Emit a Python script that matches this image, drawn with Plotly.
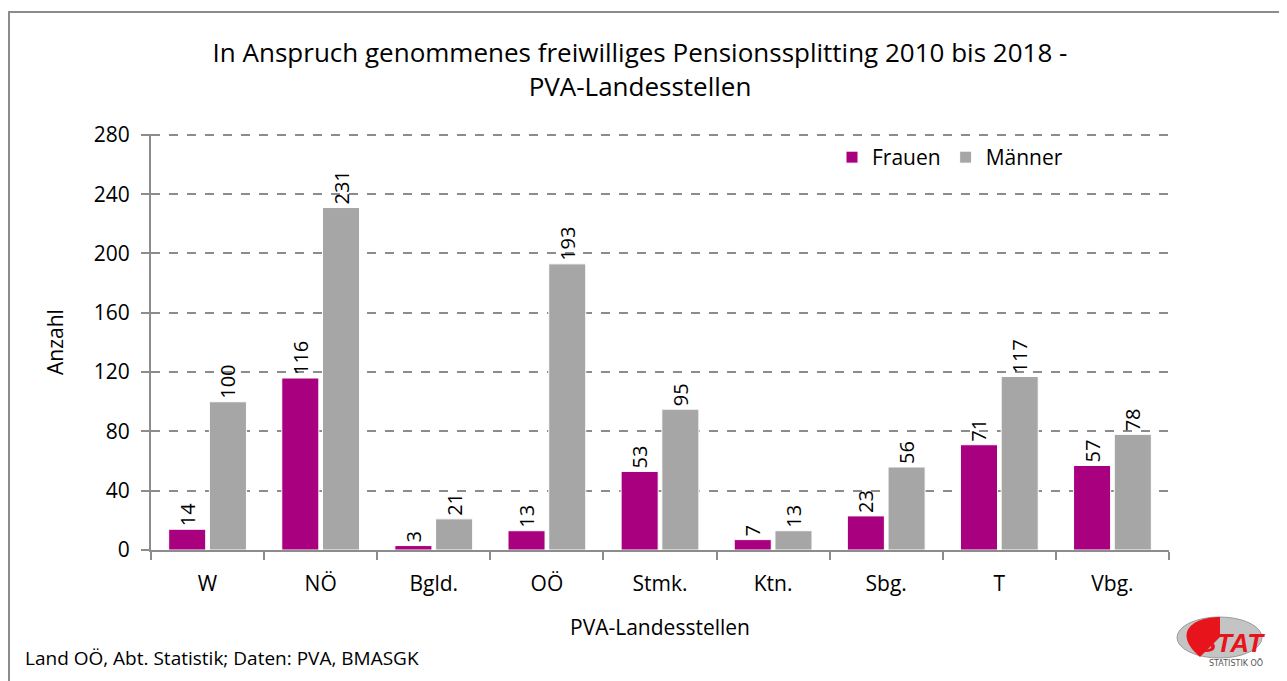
import plotly.graph_objects as go

# data
categories = ["W", "NÖ", "Bgld.", "OÖ", "Stmk.", "Ktn.", "Sbg.", "T", "Vbg."]
frauen = [14, 116, 3, 13, 53, 7, 23, 71, 57]
maenner = [100, 231, 21, 193, 95, 13, 56, 117, 78]
yticks = [0, 40, 80, 120, 160, 200, 240, 280]

FONT = "Open Sans"
W, H = 1287, 681
OFF = 8  # page body margin
L, R, T, B = 151 - OFF, 1169 - OFF, 134 - OFF, 550 - OFF

def px(x):
    return (x - OFF - L) / (R - L)

def py(y):
    return (B - (y - OFF)) / (B - T)

fig = go.Figure()
fig.add_trace(go.Bar(
    x=categories, y=frauen, name="Frauen",
    marker=dict(color="#A8007F", line=dict(color="white", width=1)),
    text=frauen, textposition="outside", textangle=-90,
    textfont=dict(size=20, color="black", family=FONT),
    cliponaxis=False,
))
fig.add_trace(go.Bar(
    x=categories, y=maenner, name="Männer",
    marker=dict(color="#A6A6A6", line=dict(color="white", width=1)),
    text=maenner, textposition="outside", textangle=-90,
    textfont=dict(size=20, color="black", family=FONT),
    cliponaxis=False,
))

shapes = [
    # chart frame (top and left edges visible)
    dict(type="rect", xref="paper", yref="paper",
         x0=px(9), x1=px(1320), y0=py(720), y1=py(12),
         line=dict(color="#8c8c8c", width=2), layer="below"),
    # top gridline (plotly drops it at the range edge)
    dict(type="line", xref="paper", yref="y", x0=0, x1=1, y0=yticks[-1], y1=yticks[-1],
         line=dict(color="#8c8c8c", width=2, dash="dash"), layer="below"),
    # logo
    dict(type="circle", xref="paper", yref="paper",
         x0=px(1177), x1=px(1262), y0=py(658), y1=py(617),
         fillcolor="#c4c4c4", line=dict(color="#9a9a9a", width=1)),
    dict(type="path", xref="paper", yref="paper",
         path="M {0},{1} L {2},{3} C {4},{5} {6},{7} {8},{9} Z".format(
             px(1220), py(637), px(1220), py(617),
             px(1192), py(617), px(1172), py(633),
             px(1200), py(657)),
         fillcolor="#e8141c", line=dict(width=0)),
]

fig.update_layout(
    width=W, height=H,
    margin=dict(l=L, r=W - R, t=T, b=H - B),
    paper_bgcolor="white", plot_bgcolor="white",
    font=dict(family=FONT, size=21, color="black"),
    title=dict(
        text="In Anspruch genommenes freiwilliges Pensionssplitting 2010 bis 2018 -<br>PVA-Landesstellen",
        x=px(640), xref="paper", xanchor="center",
        y=1 - 54 / H, yanchor="top",
        font=dict(size=26, family=FONT, color="black"),
    ),
    barmode="group", bargap=0.28, bargroupgap=0.09,
    showlegend=True,
    legend=dict(orientation="h", x=px(832), y=py(137), xanchor="left", yanchor="top",
                font=dict(size=21, family=FONT), bgcolor="rgba(0,0,0,0)",
                itemwidth=30, traceorder="normal"),
    xaxis=dict(
        showline=True, linecolor="#8c8c8c", linewidth=2,
        ticks="outside", tickson="boundaries", ticklen=8, tickcolor="#8c8c8c", tickwidth=2,
        tickfont=dict(size=21), ticklabelstandoff=14,
        title=dict(text="PVA-Landesstellen", font=dict(size=21), standoff=24),
    ),
    yaxis=dict(
        range=[0, 280.6], tickvals=yticks,
        showline=True, linecolor="#8c8c8c", linewidth=2,
        ticks="outside", ticklen=8, tickcolor="#8c8c8c", tickwidth=2,
        showgrid=True, gridcolor="#8c8c8c", gridwidth=2, griddash="dash",
        zeroline=False, tickfont=dict(size=21), ticklabelstandoff=7,
        title=dict(text="Anzahl", font=dict(size=21), standoff=24),
    ),
    shapes=shapes,
    annotations=[
        dict(text="Land OÖ, Abt. Statistik; Daten: PVA, BMASGK", xref="paper", yref="paper",
             x=px(23), y=py(658), xanchor="left", yanchor="middle", showarrow=False,
             font=dict(size=19, family=FONT, color="black")),
        dict(text="<b><i>STAT</i></b>", xref="paper", yref="paper",
             x=px(1267), y=py(643), xanchor="right", yanchor="middle", showarrow=False,
             font=dict(size=26, family="Liberation Sans", color="#e8141c")),
        dict(text="STATISTIK OÖ", xref="paper", yref="paper",
             x=px(1265), y=py(663), xanchor="right", yanchor="middle", showarrow=False,
             font=dict(size=8, family="DejaVu Sans", color="#555555")),
    ],
)

fig.write_html("out.html")
